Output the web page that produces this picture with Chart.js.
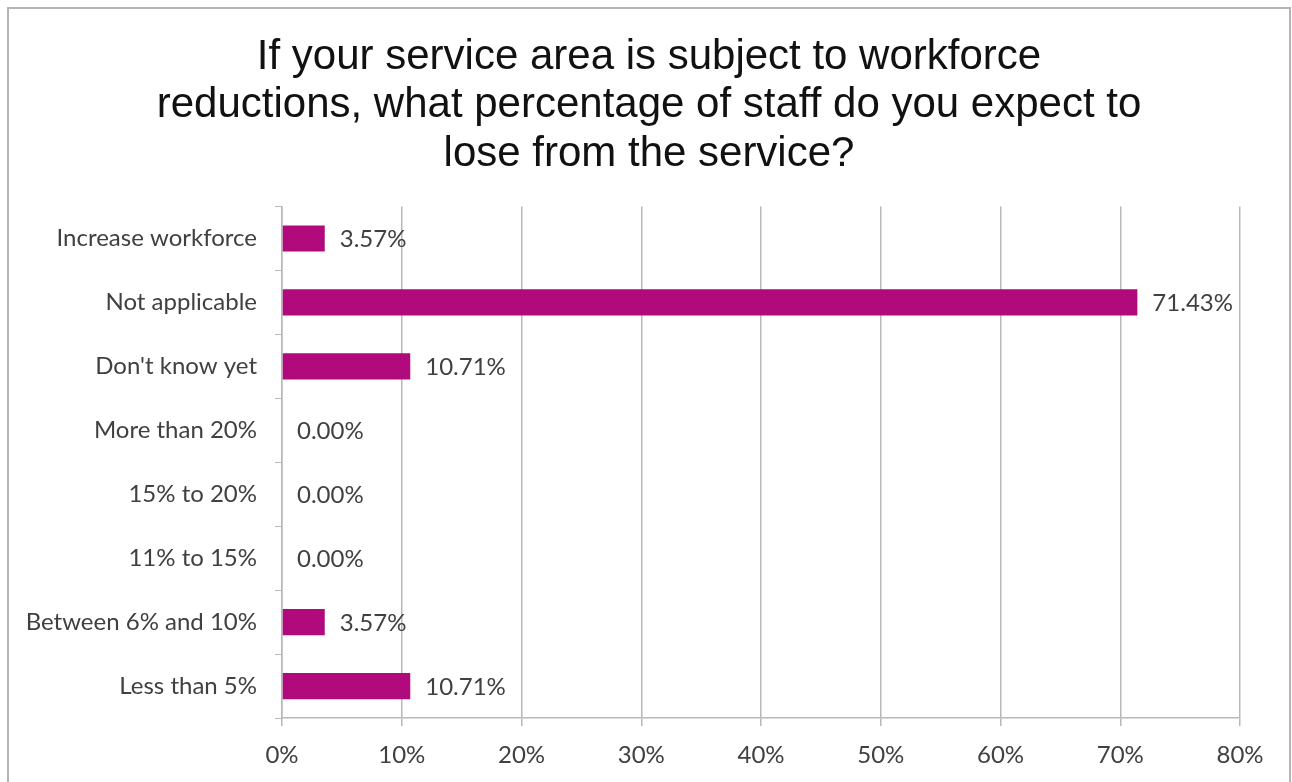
<!DOCTYPE html>
<html>
<head>
<meta charset="utf-8">
<title>Workforce reductions</title>
<script src="https://cdn.jsdelivr.net/npm/chart.js@4"></script>
<style>
  html, body { margin: 0; padding: 0; background: #fff; }
  #wrap { width: 1292px; height: 782px; }
</style>
</head>
<body>
<div id="wrap"><canvas id="myChart"></canvas></div>
<script>
const titleLines = [
  'If your service area is subject to workforce',
  'reductions, what percentage of staff do you expect to',
  'lose from the service?'
];
const categories = [
  'Increase workforce',
  'Not applicable',
  "Don't know yet",
  'More than 20%',
  '15% to 20%',
  '11% to 15%',
  'Between 6% and 10%',
  'Less than 5%'
];
const percentages = [3.57, 71.43, 10.71, 0, 0, 0, 3.57, 10.71];
const axisMax = 80;

const labelFont = 'Lato, "Open Sans", sans-serif';
const textGrey = '#404040';
const lineGrey = '#b8b8b8';

// grey frame round the whole chart
const frame = {
  id: 'frame',
  beforeDraw(chart) {
    const c = chart.ctx;
    c.save();
    c.strokeStyle = '#b4b4b4';
    c.lineWidth = 2;
    c.strokeRect(8, 8, 1282, 800);
    c.restore();
  }
};

// value labels just right of each bar end
const valueLabels = {
  id: 'valueLabels',
  afterDatasetsDraw(chart) {
    const c = chart.ctx;
    const meta = chart.getDatasetMeta(0);
    c.save();
    c.font = '24px ' + labelFont;
    c.fillStyle = textGrey;
    c.textAlign = 'left';
    c.textBaseline = 'middle';
    meta.data.forEach((bar, i) => {
      c.fillText(percentages[i].toFixed(2) + '%', bar.x + 15, bar.y + 1);
    });
    c.restore();
  }
};

const ctx = document.getElementById('myChart');

new Chart(ctx, {
  type: 'bar',
  data: {
    labels: categories,
    datasets: [{
      data: percentages,
      backgroundColor: '#b10a7c',
      borderWidth: 0,
      categoryPercentage: 1,
      barPercentage: 0.41
    }]
  },
  plugins: [frame, valueLabels],
  options: {
    indexAxis: 'y',
    responsive: true,
    maintainAspectRatio: false,
    animation: false,
    layout: { padding: { left: 16, right: 10, top: 0, bottom: 0 } },
    plugins: {
      legend: { display: false },
      tooltip: { enabled: false },
      title: {
        display: true,
        text: titleLines,
        color: '#111',
        font: { family: '"Liberation Sans", Arial, sans-serif', size: 42, weight: 'normal', lineHeight: 1.155 },
        padding: { top: 33, bottom: 28 }
      }
    },
    scales: {
      x: {
        min: 0,
        max: axisMax,
        ticks: {
          stepSize: 10,
          color: textGrey,
          font: { family: labelFont, size: 24 },
          padding: 15,
          callback: v => v + '%'
        },
        grid: { color: lineGrey, lineWidth: 1.5, tickLength: 8 },
        border: { color: lineGrey, width: 1.5 },
        afterFit(scale) {
          scale.height = 64;
          // leave room on the right so the plot ends at the 80% line
          scale.paddingRight = 52;
        }
      },
      y: {
        ticks: {
          color: textGrey,
          font: { family: labelFont, size: 24 },
          padding: 18
        },
        grid: { drawOnChartArea: false, color: lineGrey, tickLength: 7 },
        border: { color: lineGrey, width: 1.5 },
        afterFit(scale) { scale.width = 266; }
      }
    }
  }
});
</script>
</body>
</html>
